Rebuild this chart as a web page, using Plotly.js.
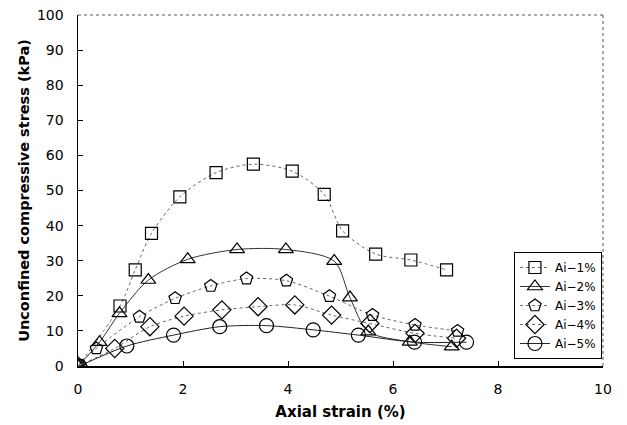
<!DOCTYPE html>
<html><head><meta charset="utf-8">
<script src="https://cdn.plot.ly/plotly-3.0.1.min.js"></script>
<style>html,body{margin:0;padding:0;background:#fff}#c{width:627px;height:425px}</style>
</head><body><div id="c"></div>
<script>
const names = ["Ai\u22121%","Ai\u22122%","Ai\u22123%","Ai\u22124%","Ai\u22125%"];
const x1 = [0,0.8,1.09,1.4,1.94,2.63,3.34,4.08,4.69,5.04,5.67,6.34,7.02];
const y1 = [0,17.1,27.4,37.8,48.2,55.1,57.5,55.5,48.9,38.5,31.9,30.2,27.4];
const x2 = [0,0.41,0.79,1.34,2.09,3.03,3.96,4.88,5.18,5.53,6.32,7.12];
const y2 = [0,6.8,15.0,24.5,30.4,33.2,33.2,29.9,19.5,9.8,6.9,5.5];
const x3 = [0,0.35,1.17,1.85,2.53,3.21,3.97,4.79,5.61,6.42,7.23];
const y3 = [0,5,14.0,19.3,22.8,24.9,24.3,19.9,14.5,11.7,10.0];
const x4 = [0,0.7,1.37,2.02,2.74,3.43,4.13,4.83,5.56,6.42,7.21];
const y4 = [0,5.0,11.2,14.2,16.0,16.9,17.4,14.5,12.1,9.3,7.9];
const x5 = [0.03,0.93,1.82,2.7,3.59,4.48,5.34,6.41,7.4];
const y5 = [0,5.7,8.8,11.2,11.5,10.3,8.8,6.8,6.8];
const xs=[x1,x2,x3,x4,x5], ys=[y1,y2,y3,y4,y5];
const symbols=["square-open","triangle-up-open","pentagon-open","diamond-open","circle-open"];
const sizes=[12,13,13,14,14];
const dashes=["dot","solid","dot","dot","solid"];
const lcolors=["#666","#333","#666","#666","#222"];
const traces = names.map((n,i)=>({
  x: xs[i], y: ys[i], name: n, type:"scatter", mode:"lines+markers",
  line:{shape:"spline", smoothing:0.8, width:1, color:lcolors[i], dash:dashes[i]},
  marker:{symbol:symbols[i], size:sizes[i], color:"#000", line:{width:1.2,color:"#000"}}
}));
const font = {family:"DejaVu Sans, sans-serif", color:"#000"};
const layout = {
  width:627, height:425,
  margin:{l:78, r:24, t:15, b:59},
  paper_bgcolor:"#fff", plot_bgcolor:"#fff",
  font:Object.assign({size:14},font),
  showlegend:true,
  legend:{x:0.998, xanchor:"right", y:0.02, yanchor:"bottom", bordercolor:"#000", borderwidth:1, bgcolor:"#fff",
    font:Object.assign({size:12},font), tracegroupgap:0, itemwidth:30},
  xaxis:{range:[0,10], dtick:2, tick0:0, showgrid:false, zeroline:false,
    showline:true, linecolor:"#000", linewidth:1.5, ticks:"inside", ticklen:5, tickcolor:"#000",
    ticklabelstandoff:10,
    tickfont:Object.assign({size:14},font),
    title:{text:"Axial strain (%)", font:Object.assign({size:15, weight:"bold"},font), standoff:10}},
  yaxis:{range:[0,100], dtick:10, tick0:0, showgrid:false, zeroline:false,
    showline:true, linecolor:"#000", linewidth:1.5, ticks:"inside", ticklen:5, tickcolor:"#000",
    ticklabelstandoff:10,
    tickfont:Object.assign({size:14},font),
    title:{text:"Unconfined compressive stress (kPa)", font:Object.assign({size:14.5, weight:"bold"},font), standoff:4}},
  shapes:[
    {type:"line", xref:"paper", yref:"paper", x0:0, x1:1, y0:1, y1:1, line:{color:"#555", width:1, dash:"dot"}},
    {type:"line", xref:"paper", yref:"paper", x0:1, x1:1, y0:0, y1:1, line:{color:"#555", width:1, dash:"dot"}}
  ]
};
Plotly.newPlot("c", traces, layout, {displayModeBar:false, staticPlot:true});
</script></body></html>
